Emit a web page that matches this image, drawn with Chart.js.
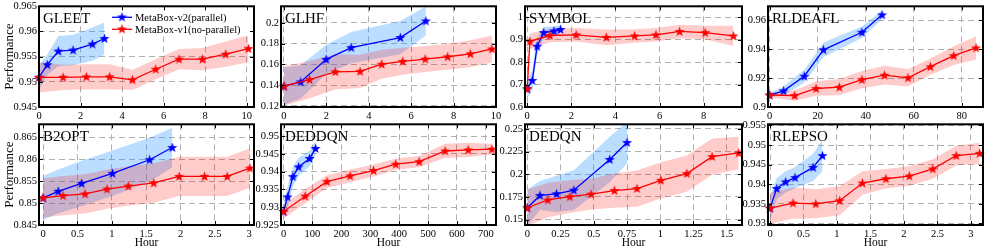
<!DOCTYPE html>
<html>
<head>
<meta charset="utf-8">
<script src="https://cdn.jsdelivr.net/npm/chart.js@4.4.1/dist/chart.umd.min.js"></script>
<style>
  html, body { margin: 0; padding: 0; background: #fff; width: 986px; height: 248px; overflow: hidden; position: relative; }
  canvas { position: absolute; }
</style>
</head>
<body>
<script>
// ---- data ----
const gleetXTicks = [0, 2, 4, 6, 8, 10];
const gleetYTicks = [0.945, 0.95, 0.955, 0.96, 0.965];
const gleetV2X = [0, 0.40, 0.93, 1.64, 2.57, 3.15];
const gleetV2Y = [0.9509, 0.9534, 0.9561, 0.9563, 0.9575, 0.9586];
const gleetV2Sd = [0.0025, 0.002, 0.003, 0.003, 0.0033, 0.0032];
const gleetV1X = [0, 1.16, 2.28, 3.40, 4.50, 5.62, 6.74, 7.87, 8.99, 10.08];
const gleetV1Y = [0.9509, 0.9509, 0.9510, 0.9510, 0.9504, 0.9525, 0.9545, 0.9545, 0.9555, 0.9566];
const gleetV1Sd = [0.003, 0.0025, 0.0025, 0.0025, 0.002, 0.002, 0.002, 0.0022, 0.0025, 0.0027];

const glhfXTicks = [0, 2, 4, 6, 8, 10];
const glhfYTicks = [0.12, 0.14, 0.16, 0.18, 0.2];
const glhfV2X = [0, 0.79, 1.99, 3.17, 5.49, 6.69];
const glhfV2Y = [0.1391, 0.1432, 0.1649, 0.1762, 0.1859, 0.2019];
const glhfV2Sd = [0.018, 0.016, 0.014, 0.015, 0.016, 0.014];
const glhfV1X = [0, 1.21, 2.42, 3.59, 4.61, 5.60, 6.66, 7.72, 8.79, 9.81];
const glhfV1Y = [0.1391, 0.1454, 0.1529, 0.1533, 0.1602, 0.1630, 0.1652, 0.1674, 0.1702, 0.1749];
const glhfV1Sd = [0.019, 0.018, 0.017, 0.016, 0.014, 0.013, 0.0125, 0.0125, 0.013, 0.013];

const symbolXTicks = [0, 2, 4, 6, 8];
const symbolYTicks = [0.6, 0.7, 0.8, 0.9, 1];
const symbolV2X = [0, 0.23, 0.45, 0.75, 1.21, 1.51];
const symbolV2Y = [0.681, 0.718, 0.870, 0.931, 0.938, 0.945];
const symbolV2Sd = [0.04, 0.045, 0.04, 0.025, 0.02, 0.02];
const symbolV1X = [0, 0.12, 1.03, 2.22, 3.59, 4.87, 5.84, 6.91, 8.07, 9.35];
const symbolV1Y = [0.681, 0.892, 0.918, 0.921, 0.910, 0.916, 0.921, 0.936, 0.931, 0.916];
const symbolV1Sd = [0.04, 0.035, 0.03, 0.03, 0.035, 0.03, 0.03, 0.03, 0.03, 0.045];

const rldeaflXTicks = [0, 20, 40, 60, 80];
const rldeaflYTicks = [0.9, 0.92, 0.94, 0.96];
const rldeaflV2X = [0, 5.8, 14.4, 22.4, 38.4, 46.8];
const rldeaflV2Y = [0.9083, 0.9112, 0.9213, 0.9396, 0.9517, 0.9638];
const rldeaflV2Sd = [0.0015, 0.003, 0.0045, 0.005, 0.004, 0.003];
const rldeaflV1X = [0, 10.4, 19.3, 29.0, 38.4, 47.8, 57.6, 66.9, 76.6, 85.9];
const rldeaflV1Y = [0.9083, 0.9079, 0.9128, 0.9137, 0.9189, 0.9220, 0.9202, 0.9279, 0.9355, 0.9409];
const rldeaflV1Sd = [0.0015, 0.0035, 0.005, 0.0056, 0.006, 0.0065, 0.006, 0.0056, 0.0065, 0.008];

const b2optXTicks = [0, 0.5, 1, 1.5, 2, 2.5, 3];
const b2optYTicks = [0.845, 0.85, 0.855, 0.86, 0.865];
const b2optV2X = [0, 0.22, 0.56, 1.01, 1.55, 1.88];
const b2optV2Y = [0.8512, 0.8527, 0.8545, 0.8568, 0.8599, 0.8627];
const b2optV2Sd = [0.005, 0.005, 0.0052, 0.0052, 0.005, 0.0045];
const b2optV1X = [0, 0.29, 0.61, 0.93, 1.24, 1.61, 1.98, 2.35, 2.68, 3.01];
const b2optV1Y = [0.8512, 0.8517, 0.8521, 0.8532, 0.8539, 0.8546, 0.8561, 0.8561, 0.8561, 0.8580];
const b2optV1Sd = [0.0045, 0.0045, 0.0045, 0.0045, 0.0045, 0.0045, 0.0045, 0.0045, 0.0045, 0.0045];

const deddqnXTicks = [0, 100, 200, 300, 400, 500, 600, 700];
const deddqnYTicks = [0.925, 0.93, 0.935, 0.94, 0.945, 0.95];
const deddqnV2X = [0, 13.8, 32.3, 51.8, 89.9, 110.6];
const deddqnV2Y = [0.9288, 0.9329, 0.9386, 0.9413, 0.9437, 0.9465];
const deddqnV2Sd = [0.0018, 0.003, 0.0028, 0.0025, 0.0022, 0.002];
const deddqnV1X = [0, 74.9, 149.8, 230.4, 311, 388, 469, 559, 639, 721];
const deddqnV1Y = [0.9288, 0.9331, 0.9372, 0.9388, 0.9403, 0.9421, 0.9428, 0.9458, 0.9461, 0.9463];
const deddqnV1Sd = [0.002, 0.002, 0.0018, 0.0018, 0.0017, 0.0016, 0.0016, 0.002, 0.002, 0.0015];

const dedqnXTicks = [0, 0.25, 0.5, 0.75, 1, 1.25, 1.5];
const dedqnYTicks = [0.15, 0.175, 0.2, 0.225, 0.25];
const dedqnV2X = [0, 0.095, 0.22, 0.35, 0.62, 0.75];
const dedqnV2Y = [0.163, 0.1766, 0.1784, 0.1824, 0.2162, 0.2349];
const dedqnV2Sd = [0.02, 0.016, 0.02, 0.022, 0.025, 0.023];
const dedqnV1X = [0, 0.155, 0.32, 0.48, 0.655, 0.825, 1.005, 1.2, 1.39, 1.59];
const dedqnV1Y = [0.163, 0.1716, 0.1752, 0.1781, 0.182, 0.1842, 0.1932, 0.2007, 0.2194, 0.2234];
const dedqnV1Sd = [0.02, 0.019, 0.018, 0.017, 0.019, 0.02, 0.02, 0.02, 0.02, 0.018];

const rlepsoXTicks = [0, 0.5, 1, 1.5, 2, 2.5, 3];
const rlepsoYTicks = [0.93, 0.935, 0.94, 0.945, 0.95, 0.955];
const rlepsoV2X = [0, 0.1, 0.234, 0.374, 0.643, 0.783];
const rlepsoV2Y = [0.9339, 0.9389, 0.9406, 0.9417, 0.9443, 0.9473];
const rlepsoV2Sd = [0.003, 0.0027, 0.0027, 0.0027, 0.0035, 0.004];
const rlepsoV1X = [0, 0.344, 0.683, 1.04, 1.38, 1.73, 2.08, 2.43, 2.78, 3.13];
const rlepsoV1Y = [0.9339, 0.9352, 0.935, 0.9358, 0.9403, 0.9414, 0.9421, 0.9439, 0.9473, 0.9479];
const rlepsoV1Sd = [0.004, 0.004, 0.0037, 0.0037, 0.003, 0.0025, 0.0025, 0.0025, 0.0025, 0.0027];

const v2Label = 'MetaBox-v2(parallel)';
const v1Label = 'MetaBox-v1(no-parallel)';

// ---- layout ----
const colLeft = [39, 281, 525, 768];
const colWidth = [215, 215, 217, 215];
const rowTop = [4, 122];
const plotH = 103;
const yAxisW = 39, padTop = 6, padRight = 12;
const xAxisH = [22, 25];
const FONT = '"Liberation Serif", "Times New Roman", serif';

Chart.defaults.font.family = FONT;
Chart.defaults.color = '#000';

const panels = [
  { name: 'GLEET', col: 0, row: 0, xr: [0, 10.35], yr: [0.945, 0.965], xt: gleetXTicks, yt: gleetYTicks,
    v2: [gleetV2X, gleetV2Y, gleetV2Sd], v1: [gleetV1X, gleetV1Y, gleetV1Sd], legend: true },
  { name: 'GLHF', col: 1, row: 0, xr: [-0.14, 10], yr: [0.119, 0.216], xt: glhfXTicks, yt: glhfYTicks,
    v2: [glhfV2X, glhfV2Y, glhfV2Sd], v1: [glhfV1X, glhfV1Y, glhfV1Sd] },
  { name: 'SYMBOL', col: 2, row: 0, xr: [-0.1, 9.74], yr: [0.6, 1.048], xt: symbolXTicks, yt: symbolYTicks,
    v2: [symbolV2X, symbolV2Y, symbolV2Sd], v1: [symbolV1X, symbolV1Y, symbolV1Sd] },
  { name: 'RLDEAFL', col: 3, row: 0, xr: [-0.7, 88.8], yr: [0.9, 0.9697], xt: rldeaflXTicks, yt: rldeaflYTicks,
    v2: [rldeaflV2X, rldeaflV2Y, rldeaflV2Sd], v1: [rldeaflV1X, rldeaflV1Y, rldeaflV1Sd] },
  { name: 'B2OPT', col: 0, row: 1, xr: [-0.06, 3.07], yr: [0.845, 0.868], xt: b2optXTicks, yt: b2optYTicks,
    v2: [b2optV2X, b2optV2Y, b2optV2Sd], v1: [b2optV1X, b2optV1Y, b2optV1Sd] },
  { name: 'DEDDQN', col: 1, row: 1, xr: [-9, 735], yr: [0.925, 0.9533], xt: deddqnXTicks, yt: deddqnYTicks,
    v2: [deddqnV2X, deddqnV2Y, deddqnV2Sd], v1: [deddqnV1X, deddqnV1Y, deddqnV1Sd] },
  { name: 'DEDQN', col: 2, row: 1, xr: [-0.0175, 1.615], yr: [0.144, 0.255], xt: dedqnXTicks, yt: dedqnYTicks,
    v2: [dedqnV2X, dedqnV2Y, dedqnV2Sd], v1: [dedqnV1X, dedqnV1Y, dedqnV1Sd] },
  { name: 'RLEPSO', col: 3, row: 1, xr: [-0.03, 3.18], yr: [0.9296, 0.9553], xt: rlepsoXTicks, yt: rlepsoYTicks,
    v2: [rlepsoV2X, rlepsoV2Y, rlepsoV2Sd], v1: [rlepsoV1X, rlepsoV1Y, rlepsoV1Sd] }
];

// filled 5-point star like matplotlib's '*' marker
function makeStar(color) {
  const c = document.createElement('canvas');
  c.width = 11; c.height = 11;
  const g = c.getContext('2d');
  g.fillStyle = color;
  g.beginPath();
  for (let i = 0; i < 10; i++) {
    const r = i % 2 ? 2.1 : 5.3;
    const a = -Math.PI / 2 + i * Math.PI / 5;
    g.lineTo(5.5 + r * Math.cos(a), 5.8 + r * Math.sin(a));
  }
  g.closePath();
  g.fill();
  return c;
}
const starBlue = makeStar('#0000ff');
const starRed = makeStar('#ff0000');

function lineSet(xs, ys, color, star) {
  return {
    data: xs.map((x, i) => ({ x, y: ys[i] })),
    borderColor: color, backgroundColor: color, borderWidth: 1.3,
    pointStyle: star, pointRadius: 5, fill: false, tension: 0, clip: false
  };
}
function bandSet(xs, ys, sd, sign, bg, fill) {
  return {
    data: xs.map((x, i) => ({ x, y: ys[i] + sign * sd[i] })),
    borderWidth: 0, borderColor: 'rgba(0,0,0,0)', backgroundColor: bg,
    pointRadius: 0, fill: fill, tension: 0
  };
}

const framePlugin = {
  id: 'frame',
  afterDraw(chart, args, opts) {
    const { ctx, chartArea: a } = chart;
    const xs = chart.scales.x, ys = chart.scales.y;
    ctx.save();
    if (opts.legend) {
      ctx.fillStyle = '#fff';
      ctx.fillRect(a.left + 70, a.top + 1, a.right - a.left - 71, 29);
      const items = [[v2Label, '#0000ff', starBlue, a.top + 11], [v1Label, '#ff0000', starRed, a.top + 23]];
      ctx.font = '10.5px ' + FONT;
      ctx.textBaseline = 'middle';
      items.forEach(([t, c, img, yy]) => {
        ctx.strokeStyle = c; ctx.lineWidth = 1.3;
        ctx.beginPath(); ctx.moveTo(a.left + 73, yy); ctx.lineTo(a.left + 93, yy); ctx.stroke();
        ctx.drawImage(img, a.left + 83 - 5.5, yy - 5.8);
        ctx.fillStyle = '#000';
        ctx.fillText(t, a.left + 96, yy + 0.5);
      });
    }
    ctx.fillStyle = '#000';
    ctx.font = '15px ' + FONT;
    ctx.textBaseline = 'alphabetic';
    ctx.fillText(opts.title, a.left + 4, a.top + 17);

    ctx.strokeStyle = '#000';
    ctx.lineWidth = 1;
    ctx.beginPath();
    xs.ticks.forEach(t => {
      const px = Math.round(xs.getPixelForValue(t.value)) + 0.5;
      ctx.moveTo(px, a.bottom); ctx.lineTo(px, a.bottom - 4);
      ctx.moveTo(px, a.top); ctx.lineTo(px, a.top + 4);
    });
    ys.ticks.forEach(t => {
      const py = Math.round(ys.getPixelForValue(t.value)) + 0.5;
      ctx.moveTo(a.left, py); ctx.lineTo(a.left + 4, py);
      ctx.moveTo(a.right, py); ctx.lineTo(a.right - 4, py);
    });
    ctx.stroke();
    ctx.lineWidth = 2;
    ctx.strokeRect(a.left, a.top, a.right - a.left, a.bottom - a.top);
    ctx.restore();
  }
};

panels.forEach(p => {
  const w = yAxisW + colWidth[p.col] + padRight;
  const h = padTop + plotH + xAxisH[p.row];
  const cv = document.createElement('canvas');
  cv.width = w; cv.height = h;
  cv.style.width = w + 'px'; cv.style.height = h + 'px';
  cv.style.left = (colLeft[p.col] - yAxisW) + 'px';
  cv.style.top = (rowTop[p.row] - padTop) + 'px';
  document.body.appendChild(cv);

  const [v2x, v2y, v2sd] = p.v2;
  const [v1x, v1y, v1sd] = p.v1;
  const redBand = 'rgba(255,0,0,0.2)';
  const blueBand = 'rgba(30,144,255,0.3)';

  new Chart(cv.getContext('2d'), {
    type: 'line',
    data: {
      datasets: [
        lineSet(v1x, v1y, '#ff0000', starRed),
        lineSet(v2x, v2y, '#0000ff', starBlue),
        bandSet(v1x, v1y, v1sd, 1, redBand, '+1'),
        bandSet(v1x, v1y, v1sd, -1, redBand, false),
        bandSet(v2x, v2y, v2sd, 1, blueBand, '+1'),
        bandSet(v2x, v2y, v2sd, -1, blueBand, false)
      ]
    },
    options: {
      responsive: false,
      animation: false,
      devicePixelRatio: 1,
      events: [],
      layout: { padding: { top: padTop, right: padRight, left: 0, bottom: 0 } },
      plugins: {
        legend: { display: false },
        tooltip: { enabled: false },
        frame: { title: p.name, legend: !!p.legend }
      },
      scales: {
        x: {
          type: 'linear', min: p.xr[0], max: p.xr[1],
          afterBuildTicks: s => { s.ticks = p.xt.filter(v => v >= p.xr[0] && v <= p.xr[1]).map(v => ({ value: v })); },
          afterFit: s => { s.height = xAxisH[p.row]; },
          grid: { color: '#b0b0b0', lineWidth: 1, drawTicks: false },
          border: { display: false, dash: [6, 4] },
          ticks: { padding: 3, maxRotation: 0, autoSkip: false, color: '#000',
                   font: { size: 10.5 }, callback: v => String(v) },
          title: { display: p.row === 1, text: 'Hour', color: '#000', font: { size: 11.5 }, padding: { top: 0, bottom: 0 } }
        },
        y: {
          type: 'linear', min: p.yr[0], max: p.yr[1],
          afterBuildTicks: s => { s.ticks = p.yt.filter(v => v >= p.yr[0] && v <= p.yr[1]).map(v => ({ value: v })); },
          afterFit: s => { s.width = yAxisW; },
          grid: { color: '#b0b0b0', lineWidth: 1, drawTicks: false },
          border: { display: false, dash: [6, 4] },
          ticks: { padding: 2, color: '#000', font: { size: 10.5 }, callback: v => String(v) },
          title: { display: p.col === 0, text: 'Performance', color: '#000', font: { size: 13 }, padding: { top: 2, bottom: 0 } }
        }
      }
    },
    plugins: [framePlugin]
  });
});
</script>
</body>
</html>
